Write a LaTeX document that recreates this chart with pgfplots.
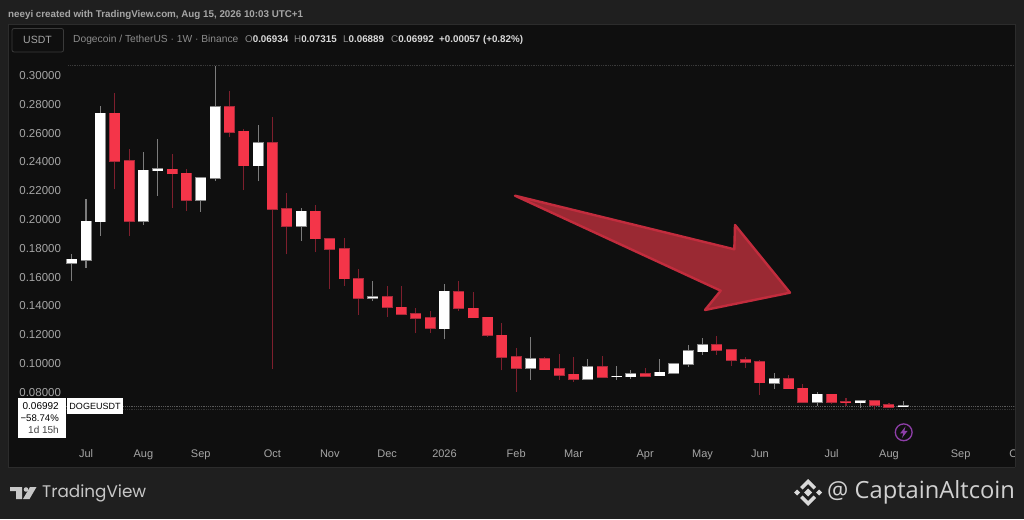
\documentclass[border=0pt]{standalone}
\usepackage{pgfplots}
\usepackage{pgfplotstable}
\usepackage{fontspec}
\pgfplotsset{compat=1.18}
\setmainfont{Liberation Sans}
\newfontfamily\tvfont{Poppins}
\newfontfamily\capfont{Open Sans}
\definecolor{outerbg}{HTML}{1F1F1F}
\definecolor{panelbg}{HTML}{0F0F0F}
\definecolor{panelline}{HTML}{2C2C2C}
\definecolor{boxline}{HTML}{3A3A3A}
\definecolor{upbody}{HTML}{FFFFFF}
\definecolor{upedge}{HTML}{8A8A8A}
\definecolor{upwick}{HTML}{7C7C7C}
\definecolor{dnbody}{HTML}{F43549}
\definecolor{dnedge}{HTML}{A82A3A}
\definecolor{dnwick}{HTML}{7E1F2D}
\definecolor{ticktext}{HTML}{A6A6A6}
\definecolor{dimtext}{HTML}{8C8C8C}
\definecolor{arrowfill}{HTML}{9A2933}
\definecolor{arrowedge}{HTML}{C22C3D}
\definecolor{bolt}{HTML}{8E3EA8}
\definecolor{dotA}{HTML}{3A3A3A}
\definecolor{dotB}{HTML}{5A5A5A}
\definecolor{dotC}{HTML}{333333}
\pgfplotstableread{
i o h l c
0 0.1691 0.1753 0.1568 0.1719
1 0.1714 0.2136 0.1661 0.1983
2 0.1981 0.2785 0.1883 0.2734
5 0.1983 0.2465 0.1957 0.2337
6 0.2335 0.2555 0.2159 0.2347
9 0.2131 0.2291 0.2048 0.2286
10 0.2282 0.3065 0.2263 0.2778
13 0.2370 0.2652 0.2261 0.2527
16 0.1950 0.2073 0.1846 0.2052
21 0.1448 0.1566 0.1429 0.1460
26 0.1237 0.1545 0.1163 0.1496
32 0.0963 0.1177 0.0880 0.1026
36 0.0887 0.1026 0.0887 0.0973
38 0.0903 0.0977 0.0880 0.0906
39 0.0903 0.0947 0.0889 0.0922
41 0.0910 0.1024 0.0908 0.0933
42 0.0926 0.0998 0.0926 0.0993
43 0.0991 0.1123 0.0973 0.1082
44 0.1077 0.1170 0.1056 0.1126
49 0.0859 0.0926 0.0820 0.0889
52 0.0727 0.0797 0.0699 0.0780
55 0.0722 0.0741 0.0685 0.0736
58 0.06934 0.07315 0.06889 0.06992
}\uptable
\pgfplotstableread{
i o h l c
3 0.2734 0.2877 0.2205 0.2402
4 0.2405 0.2488 0.1883 0.1985
7 0.2344 0.2451 0.2076 0.2314
8 0.2316 0.2347 0.2057 0.2131
11 0.2778 0.2889 0.2567 0.2604
12 0.2608 0.2625 0.2201 0.2370
14 0.2527 0.2706 0.0956 0.2069
15 0.2071 0.2182 0.1753 0.1950
17 0.2052 0.2094 0.1767 0.1862
18 0.1862 0.1862 0.1515 0.1790
19 0.1792 0.1865 0.1536 0.1584
20 0.1584 0.1652 0.1334 0.1450
22 0.1457 0.1533 0.1318 0.1385
23 0.1385 0.1531 0.1332 0.1339
24 0.1339 0.1383 0.1204 0.1309
25 0.1311 0.1357 0.1207 0.1239
27 0.1494 0.1568 0.1362 0.1378
28 0.1378 0.1492 0.1313 0.1313
29 0.1316 0.1316 0.1179 0.1191
30 0.1190 0.1274 0.0947 0.1040
31 0.1042 0.1105 0.0799 0.0963
33 0.1026 0.1037 0.0952 0.0952
34 0.0959 0.1063 0.0880 0.0915
35 0.0919 0.1042 0.0868 0.0887
37 0.0973 0.1047 0.0891 0.0901
40 0.0922 0.0963 0.0898 0.0908
45 0.1123 0.1186 0.1056 0.1086
46 0.1088 0.1088 0.0977 0.1019
47 0.1021 0.1037 0.0966 0.1003
48 0.1005 0.1019 0.0778 0.0861
50 0.0889 0.0912 0.0820 0.0820
51 0.0822 0.0850 0.0718 0.0727
53 0.0780 0.0785 0.0713 0.0725
54 0.0729 0.0755 0.0699 0.0725
56 0.0736 0.0739 0.0676 0.0706
57 0.0708 0.0718 0.0692 0.0692
}\dntable
\newcommand{\wicks}[2]{\addplot[draw=none,forget plot,
  error bars/.cd,y dir=plus,y explicit,error mark=none,
  error bar style={line width=1.1pt,color=#2}]
  table[x=i,y=l,y error expr=\thisrow{h}-\thisrow{l}]{#1};}
\begin{document}
\begin{tikzpicture}[x=1pt,y=1pt]
\useasboundingbox (0,0) rectangle (1024,519);
\fill[outerbg] (0,0) rectangle (1024,519);
\begin{scope}[y=-1pt,yshift=519pt]
\fill[panelbg] (8.5,24.5) rectangle (1015,467);
\draw[panelline,line width=0.8pt] (8.5,24.5) rectangle (1015,467);
\end{scope}
\begin{axis}[
  at={(64pt,74pt)},anchor=south west,
  scale only axis,width=957pt,height=385pt,
  xmin=-0.537,xmax=66.21,ymin=0.04281,ymax=0.31043,
  axis line style={draw=none},tick style={draw=none},
  xtick={1,5,9,14,18,22,26,31,35,40,44,48,53,57,62,66},
  xticklabels={Jul,Aug,Sep,Oct,Nov,Dec,2026,Feb,Mar,Apr,May,Jun,Jul,Aug,Sep,Oct},
  ytick={0.08,0.10,0.12,0.14,0.16,0.18,0.20,0.22,0.24,0.26,0.28,0.30},
  /pgf/number format/fixed,
  /pgf/number format/fixed zerofill,
  /pgf/number format/precision=5,
  /pgf/number format/assume math mode=true,
  scaled y ticks=false,
  tick label style={font=\fontsize{11.5}{12}\selectfont,text=ticktext},
  xtick pos=bottom,ytick pos=left,
  x tick label style={yshift=-1pt,text height=8pt,text depth=2pt,font=\fontsize{11}{12}\selectfont},
  y tick label style={xshift=0.5pt,yshift=-0.7pt},
]
\addplot[forget plot,dotA,line width=0.8pt,densely dotted] coordinates {(-0.25,0.3070) (65.75,0.3070)};
\addplot[forget plot,dotB,line width=0.8pt,densely dotted] coordinates {(-0.537,0.06992) (65.75,0.06992)};
\addplot[forget plot,dotC,line width=0.8pt,densely dotted] coordinates {(-0.537,0.0678) (65.75,0.0678)};
\wicks{\uptable}{upwick}
\wicks{\dntable}{dnwick}
% body edges
\addplot[draw=none,forget plot,error bars/.cd,y dir=plus,y explicit,error mark=none,
  error bar style={line width=11pt,color=upedge}]
  table[x=i,y expr=\thisrow{o}-0.0004,y error expr=\thisrow{c}-\thisrow{o}+0.0008]{\uptable};
\addplot[draw=none,forget plot,error bars/.cd,y dir=plus,y explicit,error mark=none,
  error bar style={line width=11pt,color=dnedge}]
  table[x=i,y expr=\thisrow{c}-0.0004,y error expr=\thisrow{o}-\thisrow{c}+0.0008]{\dntable};
% bodies
\addplot[draw=none,forget plot,error bars/.cd,y dir=plus,y explicit,error mark=none,
  error bar style={line width=10pt,color=upbody}]
  table[x=i,y=o,y error expr=\thisrow{c}-\thisrow{o}]{\uptable};
\addplot[draw=none,forget plot,error bars/.cd,y dir=plus,y explicit,error mark=none,
  error bar style={line width=10pt,color=dnbody}]
  table[x=i,y=c,y error expr=\thisrow{o}-\thisrow{c}]{\dntable};
\end{axis}
\begin{scope}[y=-1pt,yshift=519pt]
% cover the clipped label at the right of the panel
\fill[outerbg] (1015.4,440) rectangle (1040,480);
\draw[panelline,line width=0.8pt] (1015,440)--(1015,467);
% arrow
\draw[arrowedge,fill=arrowfill,line width=2.4pt,line join=round]
 (515,195.7)--(734.3,249.3)--(735,225)--(790,292.7)--(705,310)--(720.7,290.7)--cycle;
% header
\node[anchor=west,inner sep=0,text=ticktext,font=\fontsize{9.8}{12}\selectfont\bfseries] at (8,14.5) {neeyi created with TradingView.com, Aug 15, 2026 10:03 UTC+1};
\draw[boxline,rounded corners=2pt,line width=0.8pt] (12,28.5) rectangle (63.5,52);
\node[anchor=center,inner sep=0,text=ticktext,font=\fontsize{10.5}{12}\selectfont] at (37.5,40) {USDT};
\node[anchor=west,inner sep=0,text=dimtext,font=\fontsize{10.25}{12}\selectfont] at (73,39.5) {Dogecoin / TetherUS · 1W · Binance};
\tikzset{olab/.style={anchor=west,inner sep=0,font=\fontsize{9.8}{12}\selectfont}}
\node[olab,text=dimtext] at (245,39.5) {O\textcolor{white!85!black}{\bfseries 0.06934}};
\node[olab,text=dimtext] at (294,39.5) {H\textcolor{white!85!black}{\bfseries 0.07315}};
\node[olab,text=dimtext] at (343,39.5) {L\textcolor{white!85!black}{\bfseries 0.06889}};
\node[olab,text=dimtext] at (391,39.5) {C\textcolor{white!85!black}{\bfseries 0.06992}};
\node[olab,text=white!85!black] at (439,39.5) {\bfseries +0.00057 (+0.82\%)};
% price label
\fill[white] (17.5,398) rectangle (66,437.7);
\fill[white] (67,398) rectangle (123,414);
\tikzset{plab/.style={inner sep=0,text=black,font=\fontsize{10}{12}\selectfont}}
\node[plab,anchor=east] at (59,406) {0.06992};
\node[plab,anchor=east,font=\fontsize{9.6}{12}\selectfont] at (59,418.5) {−58.74\%};
\node[plab,anchor=east,text=black!75] at (59,430) {1d 15h};
\node[plab,font=\fontsize{9}{12}\selectfont] at (95,406) {DOGEUSDT};
% purple icon
\draw[bolt,line width=1.3pt] (903.7,432.3) circle (8.4);
\fill[bolt] (905.5,426.5)--(900,433.5)--(903.2,433.5)--(902,438)--(907.5,431)--(904.3,431)--cycle;
% TradingView logo
\fill[white!78!black] (10,487)--(22,487)--(22,499)--(16,499)--(16,491)--(10,491)--cycle;
\fill[white!78!black] (26,489.5) circle (2.3);
\fill[white!78!black] (30,487)--(36.5,487)--(29.5,499)--(23,499)--cycle;
\node[anchor=west,inner sep=0,text=white!78!black,font=\tvfont\fontsize{16.8}{20}\selectfont] at (42,493) {TradingView};
% Binance-style mark
\begin{scope}[white!85!black]
\fill (808,488.5)--(812,492.5)--(808,496.5)--(804,492.5)--cycle;
\fill (797,489.5)--(800,492.5)--(797,495.5)--(794,492.5)--cycle;
\fill (819,489.5)--(822,492.5)--(819,495.5)--(816,492.5)--cycle;
\fill (808,479)--(816,487)--(813.5,489.5)--(808,484)--(802.5,489.5)--(800,487)--cycle;
\fill (808,506)--(816,498)--(813.5,495.5)--(808,501)--(802.5,495.5)--(800,498)--cycle;
\end{scope}
\node[anchor=west,inner sep=0,text=white!82!black,font=\capfont\fontsize{23.7}{26}\selectfont] at (827,492) {@ CaptainAltcoin};
\end{scope}
\end{tikzpicture}
\end{document}
